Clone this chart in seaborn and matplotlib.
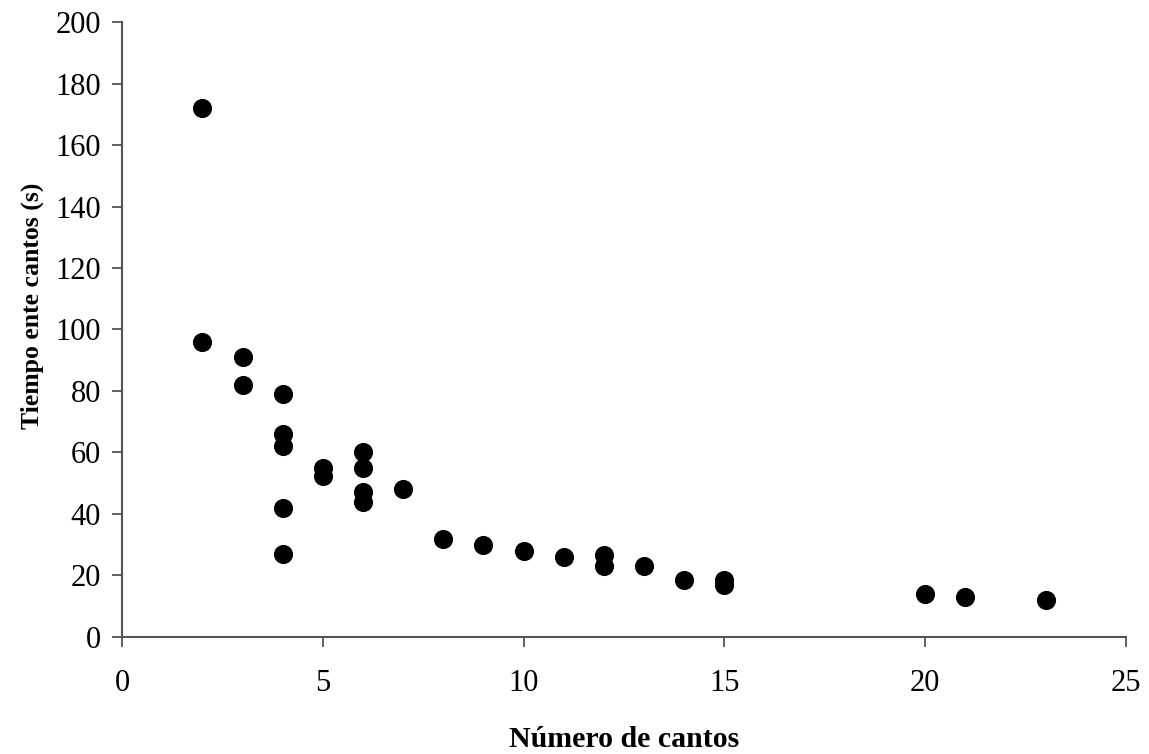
import matplotlib
matplotlib.use("Agg")
import matplotlib.pyplot as plt
import seaborn as sns
import pandas as pd

# Song count vs. mean interval between songs
num_cantos = [2, 2, 3, 3, 4, 4, 4, 4, 4, 5, 5, 6, 6, 6, 6, 7, 8, 9, 10, 11, 12, 12, 13, 14, 15, 15, 20, 21, 23]
tiempo_s = [172, 96, 91, 82, 79, 66, 62, 42, 27, 55, 52.5, 60, 55, 47, 44, 48, 32, 30, 28, 26, 26.5, 23, 23, 18.5, 18.5, 17, 14, 13, 12]

x_ticks = [0, 5, 10, 15, 20, 25]
y_ticks = [0, 20, 40, 60, 80, 100, 120, 140, 160, 180, 200]

df = pd.DataFrame({"Número de cantos": num_cantos, "Tiempo ente cantos (s)": tiempo_s})

sns.set_theme(style="ticks")
plt.rcParams["font.family"] = ["Liberation Serif", "DejaVu Serif"]
plt.rcParams["text.color"] = "black"
plt.rcParams["axes.labelcolor"] = "black"
plt.rcParams["xtick.color"] = "black"
plt.rcParams["ytick.color"] = "black"

fig = plt.figure(figsize=(11.49, 7.54), dpi=100)
ax = fig.add_axes([0.1062, 0.1552, 0.8738, 0.8156])

sns.scatterplot(data=df, x="Número de cantos", y="Tiempo ente cantos (s)",
                color="black", s=190, edgecolor="black", linewidth=0, ax=ax)

ax.set_xlim(0, 25)
ax.set_ylim(0, 200)
ax.set_xticks(x_ticks)
ax.set_yticks(y_ticks)
ax.tick_params(axis="both", labelsize=22, length=7, width=1.2, color="#444444",
               labelcolor="black", direction="out")
ax.tick_params(axis="x", pad=16)
ax.tick_params(axis="y", pad=8)

for side in ["top", "right"]:
    ax.spines[side].set_visible(False)
for side in ["left", "bottom"]:
    ax.spines[side].set_color("#555555")
    ax.spines[side].set_linewidth(1.5)

ax.set_xlabel("Número de cantos", fontsize=21.5, fontweight="bold", labelpad=20)
ax.set_ylabel("Tiempo ente cantos (s)", fontsize=18.5, fontweight="bold")
ax.yaxis.set_label_coords(-0.078, 0.538)

fig.savefig("out.png", dpi=100, facecolor="white")
